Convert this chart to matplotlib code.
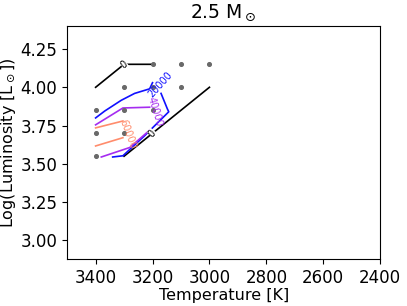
import matplotlib
matplotlib.use("Agg")
import matplotlib.pyplot as plt

# grid points where the models were computed
grid_T = [3400, 3400, 3400, 3300, 3300, 3300, 3200, 3200, 3200, 3100, 3100, 3000]
grid_L = [3.85, 3.70, 3.55, 4.00, 3.85, 3.70, 4.00, 3.85, 4.15, 4.00, 4.15, 4.15]

# contour segments
black_T1 = [3400, 3300, 3200]
black_L1 = [4.00, 4.15, 4.15]
black_T2 = [3300, 3000]
black_L2 = [3.55, 4.00]

blue_T1 = [3400, 3368, 3310, 3263, 3210, 3200]
blue_L1 = [3.80, 3.845, 3.915, 3.96, 3.99, 4.03]
blue_T2 = [3170, 3148, 3143, 3230, 3304, 3340]
blue_L2 = [3.96, 3.86, 3.84, 3.68, 3.553, 3.545]

purple_T1 = [3400, 3304, 3210]
purple_L1 = [3.755, 3.865, 3.87]
purple_T2 = [3207, 3280, 3380]
purple_L2 = [3.725, 3.607, 3.545]

salmon_T1 = [3400, 3304]
salmon_L1 = [3.735, 3.78]
salmon_T2 = [3400, 3304]
salmon_L2 = [3.617, 3.671]

c_black = "black"
c_blue = "#1010ff"
c_purple = "#a52cf0"
c_salmon = "#ff8c6c"

fig = plt.figure(figsize=(4.07, 3.06), dpi=100)
ax = fig.add_axes([0.165, 0.154, 0.769, 0.761])

ax.scatter(grid_T, grid_L, s=7, color="dimgray", zorder=3)

ax.plot(black_T1, black_L1, color=c_black, lw=1.2)
ax.plot(black_T2, black_L2, color=c_black, lw=1.2)
ax.plot(blue_T1, blue_L1, color=c_blue, lw=1.2)
ax.plot(blue_T2, blue_L2, color=c_blue, lw=1.2)
ax.plot(purple_T1, purple_L1, color=c_purple, lw=1.2)
ax.plot(purple_T2, purple_L2, color=c_purple, lw=1.2)
ax.plot(salmon_T1, salmon_L1, color=c_salmon, lw=1.2)
ax.plot(salmon_T2, salmon_L2, color=c_salmon, lw=1.2)

# contour labels
lab = dict(fontsize=7, ha="center", va="center", zorder=4)
ax.text(3300, 4.15, "0", color=c_black, rotation=37,
        bbox=dict(fc="white", ec="none", pad=0), **lab)
ax.text(3200, 3.70, "0", color=c_black, rotation=50,
        bbox=dict(fc="white", ec="none", pad=0), **lab)
ax.text(3173, 4.015, "20000", color=c_blue, rotation=48, **lab)
ax.text(3190, 3.84, "40000", color=c_purple, rotation=-73, **lab)
ax.text(3287, 3.696, "60000", color=c_salmon, rotation=-69, **lab)

ax.set_xlim(3500, 2400)
ax.set_ylim(2.88, 4.40)
ax.set_xticks([3400, 3200, 3000, 2800, 2600, 2400])
ax.set_yticks([3.00, 3.25, 3.50, 3.75, 4.00, 4.25])
ax.tick_params(labelsize=12)
ax.set_xlabel("Temperature [K]", fontsize=11.5, labelpad=1)
ax.set_ylabel(r"Log(Luminosity [L$_\odot$])", fontsize=11.5, labelpad=2)
ax.set_title(r"2.5 M$_\odot$", fontsize=13.5)

fig.savefig("out.png", dpi=100)
